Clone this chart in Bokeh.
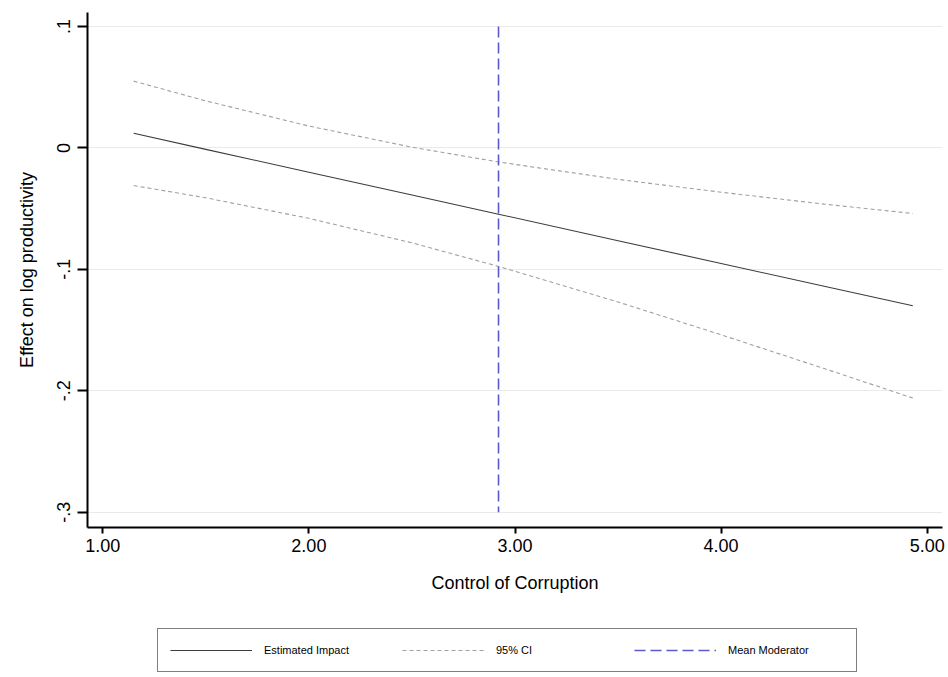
from bokeh.plotting import figure
from bokeh.layouts import column
from bokeh.models import (FixedTicker, Legend, LegendItem, Range1d, ColumnDataSource)
from bokeh.embed import file_html
from bokeh.resources import INLINE

# ---- data ----
moderator = [1.15, 1.50, 2.00, 2.50, 2.92, 3.50, 4.00, 4.50, 4.93]
estimate = [0.012, -0.0012, -0.020, -0.0388, -0.0546, -0.0764, -0.0952, -0.114, -0.130]
ci_upper = [0.055, 0.0387, 0.018, 0.0006, -0.0116, -0.0259, -0.0365, -0.0463, -0.054]
ci_lower = [-0.031, -0.0411, -0.058, -0.0782, -0.0976, -0.1269, -0.1539, -0.1817, -0.206]
mean_moderator = [2.92]
mean_line_y0 = [0.1]
mean_line_y1 = [-0.3]

x_ticks = [1, 2, 3, 4, 5]
x_tick_labels = ["1.00", "2.00", "3.00", "4.00", "5.00"]
y_ticks = [0.1, 0, -0.1, -0.2, -0.3]
y_tick_labels = [".1", "0", "-.1", "-.2", "-.3"]
legend_labels = ["Estimated Impact", "95% CI", "Mean Moderator"]

FONT = "Liberation Sans"
EST_STYLE = dict(line_color="#3c3c3c", line_width=1.1)
CI_STYLE = dict(line_color="#a0a0a0", line_width=1.1, line_dash="4 3")
MEAN_STYLE = dict(line_color="#5a5ac8", line_width=1.6, line_dash="11 5")

p = figure(width=946, height=607, output_backend="svg", toolbar_location=None,
           x_range=Range1d(0.926, 5.074), y_range=Range1d(-0.3126, 0.1115),
           min_border_left=87, min_border_top=12, min_border_right=4, min_border_bottom=80)
p.outline_line_color = None
p.background_fill_color = "white"
p.border_fill_color = "white"

src = ColumnDataSource(dict(x=moderator, est=estimate, up=ci_upper, lo=ci_lower))
msrc = ColumnDataSource(dict(x=mean_moderator, y0=mean_line_y0, y1=mean_line_y1))

p.line("x", "est", source=src, **EST_STYLE)
p.line("x", "up", source=src, **CI_STYLE)
p.line("x", "lo", source=src, **CI_STYLE)
p.segment(x0="x", y0="y0", x1="x", y1="y1", source=msrc, **MEAN_STYLE)

# axes
p.xaxis.ticker = FixedTicker(ticks=x_ticks)
p.xaxis.major_label_overrides = {t: l for t, l in zip(x_ticks, x_tick_labels)}
p.yaxis.ticker = FixedTicker(ticks=y_ticks)
p.yaxis.major_label_overrides = {t: l for t, l in zip(y_ticks, y_tick_labels)}
p.yaxis.major_label_orientation = "vertical"

for ax in (p.xaxis, p.yaxis):
    ax.axis_line_color = "black"
    ax.axis_line_width = 2
    ax.major_tick_line_color = "black"
    ax.major_tick_line_width = 2
    ax.major_tick_in = 0
    ax.minor_tick_line_color = None
    ax.major_label_text_font = FONT
    ax.major_label_text_font_size = "18px"
    ax.major_label_text_color = "black"
    ax.axis_label_text_font = FONT
    ax.axis_label_text_font_size = "18px"
    ax.axis_label_text_font_style = "normal"
    ax.axis_label_text_color = "black"

p.xaxis.major_tick_out = 6
p.yaxis.major_tick_out = 10
p.xaxis.major_label_standoff = 5
p.yaxis.major_label_standoff = 7
p.xaxis.axis_label = "Control of Corruption"
p.yaxis.axis_label = "Effect on log productivity"
p.xaxis.axis_label_standoff = 18
p.yaxis.axis_label_standoff = 18

p.xgrid.grid_line_color = None
p.ygrid.ticker = FixedTicker(ticks=y_ticks)
p.ygrid.grid_line_color = "#eaeaea"
p.ygrid.grid_line_width = 1

# ---- legend strip (separate figure below the plot; its glyphs lie outside its ranges) ----
lg = figure(width=946, height=69, output_backend="svg", toolbar_location=None,
            x_axis_type=None, y_axis_type=None, x_range=Range1d(100, 101), y_range=Range1d(100, 101),
            min_border=0)
lg.outline_line_color = None
lg.grid.visible = False
l_est = lg.line("x", "est", source=src, **EST_STYLE)
l_ci = lg.line("x", "up", source=src, **CI_STYLE)
l_mean = lg.segment(x0="x", y0="y0", x1="x", y1="y1", source=msrc, **MEAN_STYLE)

legend = Legend(items=[
    LegendItem(label=legend_labels[0], renderers=[l_est]),
    LegendItem(label=legend_labels[1], renderers=[l_ci]),
    LegendItem(label=legend_labels[2], renderers=[l_mean]),
], orientation="horizontal", location=(70, 4))
legend.border_line_color = "black"
legend.border_line_width = 1.5
legend.background_fill_color = "white"
legend.background_fill_alpha = 1
legend.label_text_font = FONT
legend.label_text_font_size = "11px"
legend.label_text_color = "black"
legend.glyph_width = 82
legend.glyph_height = 18
legend.label_standoff = 12
legend.label_width = 116
legend.spacing = 22
legend.padding = 12
legend.margin = 0
lg.add_layout(legend, "center")

layout = column(p, lg, spacing=0)
open("out.html", "w").write(file_html(layout, INLINE))
